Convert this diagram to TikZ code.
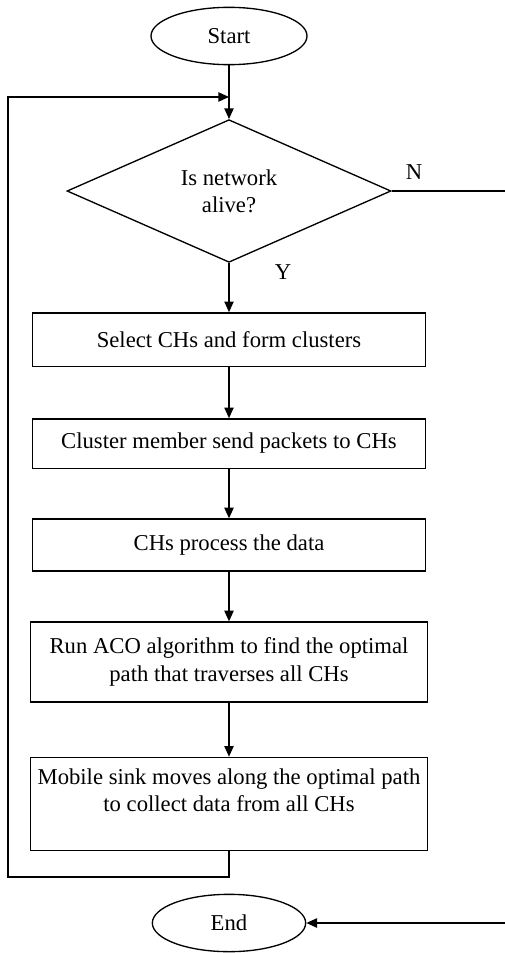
\documentclass[tikz,border=0pt]{standalone}
\usepackage{fontspec}
\setmainfont{Liberation Serif}
\usepackage{tikz}
\usetikzlibrary{shapes.geometric,arrows.meta}

\tikzset{
    flowbox/.style={draw, line width=1pt, rectangle, align=center, inner sep=2pt},
    term/.style={draw, line width=1pt, ellipse, inner sep=0pt},
    choice/.style={draw, line width=1pt, diamond, align=center, inner sep=0pt}
}

\begin{document}
\begin{tikzpicture}[x=0.75pt, y=-0.75pt, >={Triangle[length=8pt, width=7pt]},
                    every node/.style={font=\fontsize{17}{20.5}\selectfont}]
                    \useasboundingbox (0,0) rectangle (504,953);

                    \node[term, minimum width=117pt, minimum height=43pt] (start) at (229,36) {Start};
                    \node[choice, minimum width=243pt, minimum height=107pt] (alive) at (229,191) {Is network\\alive?};
                    \node[flowbox, minimum width=295pt, minimum height=40pt] (select) at (229,339.5) {Select CHs and form clusters};
                    \node[flowbox, minimum width=295pt, minimum height=37pt] (send) at (229,443.5) {Cluster member send packets to CHs};
                    \node[flowbox, minimum width=295pt, minimum height=39pt] (process) at (229,545) {CHs process the data};
                    \node[flowbox, minimum width=298pt, minimum height=60pt] (aco) at (229,662) {Run ACO algorithm to find the optimal\\path that traverses all CHs};
                    \node[flowbox, minimum width=298pt, minimum height=70pt] (sink) at (229,804) {Mobile sink moves along the optimal path\\to collect data from all CHs\\\mbox{}};
                    \node[term, minimum width=115pt, minimum height=43pt] (end) at (229,923) {End};

                    \node (lblN) at (414,172) {N};
                    \node (lblY) at (283,272) {Y};

                    \coordinate (merge) at (229,97);
                    \coordinate (loopbot) at (8,877);
                    \coordinate (rightbot) at (512,923);

                    \begin{scope}[line width=1pt]
                        \draw[->] (start) -- (alive);
                        \draw[->] (alive) -- (select);
                        \draw[->] (select) -- (send);
                        \draw[->] (send) -- (process);
                        \draw[->] (process) -- (aco);
                        \draw[->] (aco) -- (sink);
                        \draw[->] (sink.south) |- (loopbot) |- (merge);
                        \draw[->] (alive.east) -| (rightbot) -- (end);
                    \end{scope}
                \end{tikzpicture}
\end{document}
